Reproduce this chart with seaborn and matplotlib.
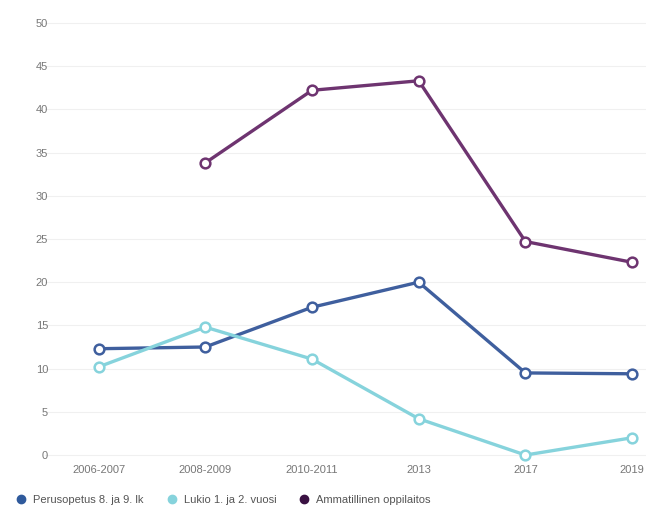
import numpy as np
import pandas as pd
import seaborn as sns
import matplotlib.pyplot as plt

# %% data

vuodet = ['2006-2007', '2008-2009', '2010-2011', '2013', '2017', '2019']
perusopetus = [12.3, 12.5, 17.1, 20.0, 9.5, 9.4]
lukio = [10.2, 14.8, 11.1, 4.2, 0.0, 2.0]
ammatillinen = [np.nan, 33.8, 42.2, 43.3, 24.7, 22.3]

sarjat = ['Perusopetus 8. ja 9. lk', 'Lukio 1. ja 2. vuosi', 'Ammatillinen oppilaitos']
varit = ['#3f5f9e', '#86d3dc', '#6e3470']
legend_varit = ['#2f5a9c', '#86d3dc', '#3a1142']

df = pd.DataFrame({
    'vuosi': vuodet * 3,
    'arvo': perusopetus + lukio + ammatillinen,
    'sarja': [s for s in sarjat for _ in vuodet],
})

# %% plot

sns.set_theme(style='white')
plt.rcParams['font.family'] = ['Liberation Sans', 'DejaVu Sans']

fig = plt.figure(figsize=(6.46, 5.15), dpi=100)
ax = fig.add_axes([0.07, 0.103, 0.93, 0.866])

sns.lineplot(data=df, x='vuosi', y='arvo', hue='sarja', hue_order=sarjat,
             palette=varit, marker='o', markersize=7, markerfacecolor='white',
             markeredgewidth=1.8, linewidth=2.4, sort=False, legend=False, ax=ax)

# borde del marcador igual al color de la linea
for ln in ax.get_lines():
    ln.set_markeredgecolor(ln.get_color())

ax.set_xlim(-0.5, 5.13)
ax.set_ylim(-0.8, 50.8)
ax.set_yticks(range(0, 51, 5))
ax.yaxis.grid(True, color='#f0f0f0', linewidth=0.8)
ax.set_xlabel('')
ax.set_ylabel('')
for s in ax.spines.values():
    s.set_visible(False)
ax.tick_params(axis='both', colors='#777777', labelsize=8, length=0, pad=2)
ax.tick_params(axis='y', pad=-2)

# leyenda abajo
handles = [plt.Line2D([], [], marker='o', linestyle='', color=c, markersize=6)
           for c in legend_varit]
fig.legend(handles, sarjat, loc='lower left', bbox_to_anchor=(0.0, 0.0), ncol=3,
           frameon=False, fontsize=8, handletextpad=0.1, columnspacing=1.5,
           labelcolor='#555555')

plt.savefig('out.png', dpi=100)
